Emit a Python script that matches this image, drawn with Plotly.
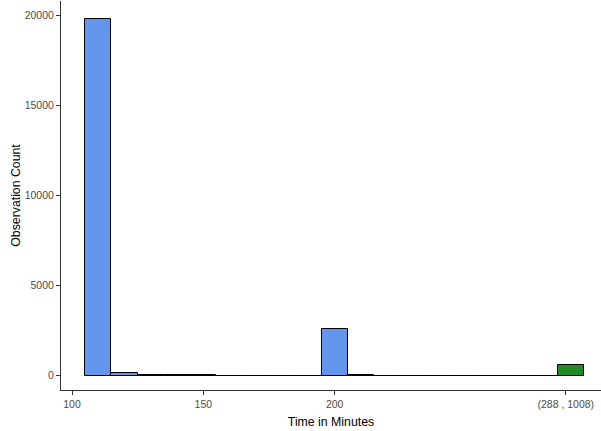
import plotly.graph_objects as go

# Histogram bins (centre of each 10-minute bin) and observation counts
bin_centers = [110, 120, 130, 140, 150, 160, 170, 180, 190, 200, 210, 220, 230,
               240, 250, 260, 270, 280]
bin_counts = [19800, 170, 40, 30, 25, 0, 0, 0, 0, 2600, 25, 0, 0,
              0, 0, 0, 0, 0]

# Overflow bin collecting everything from 288 to 1008 minutes
overflow_center = [290]
overflow_count = [600]

x_tick_values = [100, 150, 200, 288]
x_tick_labels = ["100", "150", "200", "(288 , 1008)"]
y_tick_values = [0, 5000, 10000, 15000, 20000]
y_tick_labels = ["0", "5000", "10000", "15000", "20000"]

fig = go.Figure()
fig.add_trace(go.Bar(
    x=bin_centers, y=bin_counts, width=10,
    marker=dict(color="#6495ED", line=dict(color="black", width=1)),
    showlegend=False,
))
fig.add_trace(go.Bar(
    x=overflow_center, y=overflow_count, width=10,
    marker=dict(color="#228B22", line=dict(color="black", width=1)),
    showlegend=False,
))

axis_font = dict(family="Liberation Sans, Arial, sans-serif", size=10.5, color="#4d4d4d")
title_font = dict(family="Liberation Sans, Arial, sans-serif", size=12.3, color="black")

fig.update_layout(
    width=601, height=431,
    margin=dict(l=61, r=0, t=1, b=41),
    plot_bgcolor="white", paper_bgcolor="white",
    bargap=0,
    xaxis=dict(
        range=[95.8, 301.4],
        tickmode="array", tickvals=x_tick_values, ticktext=x_tick_labels,
        showgrid=False, zeroline=False,
        showline=True, linecolor="#333333", linewidth=1,
        ticks="outside", ticklen=4, tickcolor="#333333",
        tickfont=axis_font,
        title=dict(text="Time in Minutes", font=title_font, standoff=8),
    ),
    yaxis=dict(
        range=[-790, 20800],
        tickmode="array", tickvals=y_tick_values, ticktext=y_tick_labels,
        showgrid=False, zeroline=False,
        showline=True, linecolor="#333333", linewidth=1,
        ticks="outside", ticklen=4, tickcolor="#333333",
        tickfont=axis_font,
        title=dict(text="Observation Count", font=title_font, standoff=1),
    ),
)

fig.write_html("out.html")
